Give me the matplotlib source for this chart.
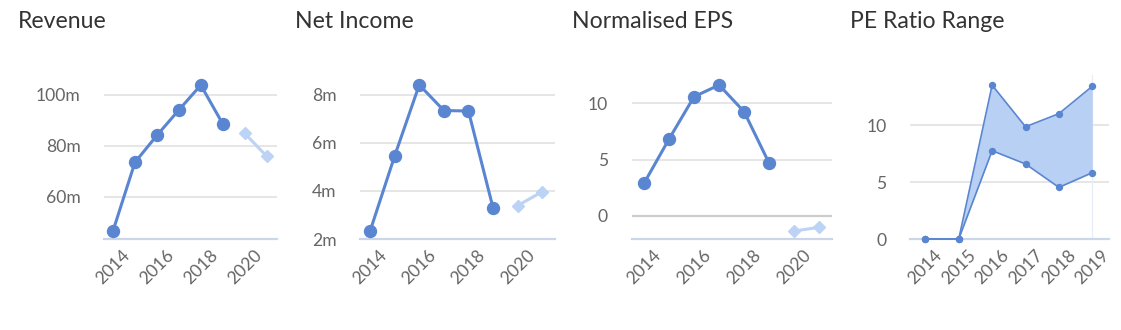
import matplotlib
matplotlib.use("Agg")
import matplotlib.pyplot as plt
import numpy as np

plt.rcParams['font.family'] = ['Lato', 'DejaVu Sans']

# ---------------- data ----------------
years = [2014, 2015, 2016, 2017, 2018, 2019]
forecast_years = [2020, 2021]

revenue = [46.5, 73.5, 84.1, 94.1, 103.9, 88.6]          # m
revenue_fc = [84.9, 75.9]

net_income = [2.33, 5.46, 8.42, 7.35, 7.33, 3.30]        # m
net_income_fc = [3.39, 3.97]

eps = [2.88, 6.82, 10.59, 11.63, 9.25, 4.66]
eps_fc = [-1.36, -1.03]

pe_years = [2014, 2015, 2016, 2017, 2018, 2019]
pe_high = [0, 0, 13.5, 9.85, 11.0, 13.4]
pe_low = [0, 0, 7.75, 6.58, 4.53, 5.82]

titles = ["Revenue", "Net Income", "Normalised EPS", "PE Ratio Range"]

# ---------------- style ----------------
W, H = 1121, 330
DPI = 100
LINE = '#5a86d1'
FC = '#bcd3f5'
FILL = '#b8d0f3'
GRID = '#e6e6e6'
AXIS = '#ccd6eb'
TXT = '#666666'
TITLE = '#333333'

fig = plt.figure(figsize=(W / DPI, H / DPI), dpi=DPI)


def add_ax(x0, x1, y0, y1):
    return fig.add_axes([x0 / W, 1 - y1 / H, (x1 - x0) / W, (y1 - y0) / H])


def style(ax, yticks, ylabels, xticks, xlim, ylim, grid_vals):
    ax.set_xlim(*xlim)
    ax.set_ylim(*ylim)
    for s in ax.spines.values():
        s.set_visible(False)
    for g in grid_vals:
        ax.axhline(g, color=GRID, lw=1.4, zorder=0)
    ax.axhline(ylim[0], color=AXIS, lw=1.6, zorder=1, clip_on=False)
    ax.set_yticks(yticks)
    ax.set_yticklabels(ylabels)
    ax.set_xticks(xticks)
    ax.set_xticklabels([str(t) for t in xticks], rotation=45, ha='center', va='top')
    ax.tick_params(axis='y', length=0, pad=17, labelsize=12.6, labelcolor=TXT)
    ax.tick_params(axis='x', length=0, pad=6.0, labelsize=12.6, labelcolor=TXT)
    ax.patch.set_alpha(0)


TOP = 75
BOT = 239

# Revenue
ax1 = add_ax(104, 277, TOP, BOT)
style(ax1, [60, 80, 100], ['60m', '80m', '100m'], [2014, 2016, 2018, 2020],
      (2013.59, 2021.47), (43.31, 107.87), [60, 80, 100])
ax1.plot(years, revenue, color=LINE, lw=2.2, marker='o', ms=8.6, zorder=3, clip_on=False)
ax1.plot(forecast_years, revenue_fc, color=FC, lw=2.2, marker='D', ms=6.5, zorder=3, clip_on=False)

# Net income
ax2 = add_ax(360, 555, TOP, BOT)
style(ax2, [2, 4, 6, 8], ['2m', '4m', '6m', '8m'], [2014, 2016, 2018, 2020],
      (2013.59, 2021.52), (2.0, 8.83), [4, 6, 8])
ax2.plot(years, net_income, color=LINE, lw=2.2, marker='o', ms=8.6, zorder=3, clip_on=False)
ax2.plot(forecast_years, net_income_fc, color=FC, lw=2.2, marker='D', ms=6.5, zorder=3, clip_on=False)

# EPS
ax3 = add_ax(631.7, 832.3, TOP, BOT)
style(ax3, [0, 5, 10], ['0', '5', '10'], [2014, 2016, 2018, 2020],
      (2013.51, 2021.52), (-2.07, 12.52), [5, 10])
ax3.axhline(0, color='#cccccc', lw=1.6, zorder=1)
ax3.plot(years, eps, color=LINE, lw=2.2, marker='o', ms=8.6, zorder=3, clip_on=False)
ax3.plot(forecast_years, eps_fc, color=FC, lw=2.2, marker='D', ms=6.5, zorder=3, clip_on=False)

# PE ratio range
ax4 = add_ax(910, 1109, TOP, BOT)
style(ax4, [0, 5, 10], ['0', '5', '10'], pe_years,
      (2013.54, 2019.5), (0, 14.39), [5, 10])
ax4.axvline(pe_years[-1], color='#e8eef8', lw=0.9, zorder=0)
ax4.fill_between(pe_years, pe_low, pe_high, color=FILL, lw=0, zorder=1)
ax4.plot(pe_years, pe_high, color=LINE, lw=1.2, marker='o', ms=4.3, zorder=3, clip_on=False)
ax4.plot(pe_years, pe_low, color=LINE, lw=1.2, marker='o', ms=4.3, zorder=3, clip_on=False)

# titles
for x, t in zip([18, 295, 572, 850], titles):
    fig.text(x / W, 1 - 28.5 / H, t, fontsize=16.6, color=TITLE, ha='left', va='baseline')

fig.savefig('out.png', dpi=DPI)
